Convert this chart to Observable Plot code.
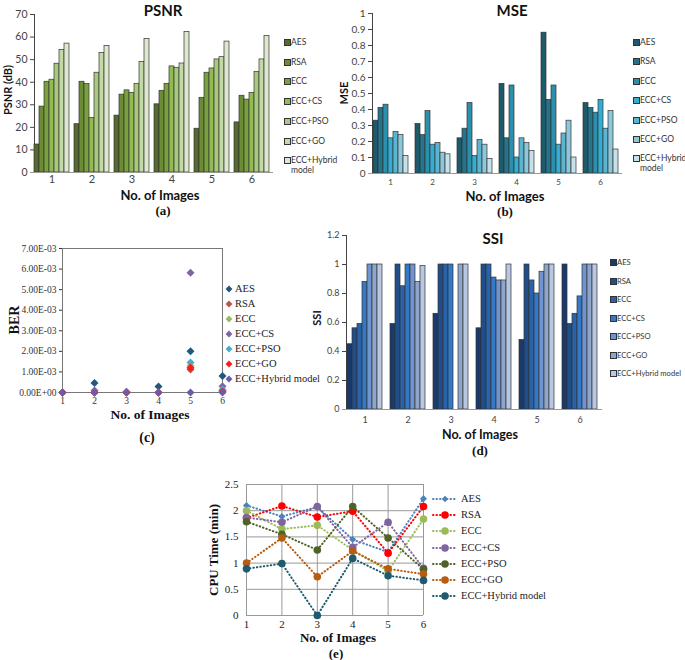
<!DOCTYPE html>
<html><head><meta charset="utf-8">
<script src="https://cdn.jsdelivr.net/npm/d3@7"></script>
<script src="https://cdn.jsdelivr.net/npm/@observablehq/plot@0.6"></script>
<style>
body{margin:0;background:#fff;}
#root{position:relative;width:685px;height:660px;overflow:hidden;background:#fff;}
#root svg{overflow:visible;}
</style></head><body><div id="root"></div>
<script>
const groups = ["1","2","3","4","5","6"];
const imageNos = [1,2,3,4,5,6];
const series = ["AES","RSA","ECC","ECC+CS","ECC+PSO","ECC+GO","ECC+Hybrid model"];

const psnrValues = [
 [12.4,21.4,25.2,30.2,19.4,22.2],
 [29.2,40.2,34.5,36.2,33.1,34.0],
 [40.2,39.2,36.4,39.3,44.2,32.3],
 [41.1,24.2,35.3,47.0,46.1,35.3],
 [48.2,44.2,39.3,46.4,50.1,44.6],
 [54.3,53.0,49.0,48.3,51.1,50.1],
 [57.1,56.1,59.2,62.3,58.0,60.5]
];
const mseValues = [
 [0.33,0.31,0.22,0.56,0.88,0.44],
 [0.41,0.24,0.28,0.22,0.46,0.41],
 [0.43,0.39,0.44,0.55,0.55,0.38],
 [0.22,0.18,0.11,0.10,0.18,0.46],
 [0.26,0.19,0.21,0.22,0.25,0.28],
 [0.24,0.13,0.18,0.19,0.33,0.39],
 [0.11,0.12,0.09,0.14,0.10,0.15]
];
const berValues = [
 [0, 0.00046, 0.00003, 0.00029, 0.00200, 0.00080],
 [0, 0, 0, 0, 0.00112, 0.00010],
 [0, 0, 0, 0, 0.00130, 0.00010],
 [0, 0.00010, 0.00003, 0, 0.00582, 0.00030],
 [0, 0, 0.00004, 0, 0.00146, 0.00015],
 [0, 0, 0, 0, 0.00120, 0.00005],
 [0, 0, 0, 0, 0, 0]
];
const ssiValues = [
 [0.45,0.59,0.66,0.56,0.48,1.00],
 [0.56,1.00,1.00,1.00,1.00,0.59],
 [0.59,0.85,1.00,1.00,0.89,0.66],
 [0.88,1.00,1.00,0.91,0.80,0.78],
 [1.00,1.00,0.00,0.89,0.95,1.00],
 [1.00,0.88,1.00,0.89,1.00,1.00],
 [1.00,0.99,1.00,1.00,1.00,1.00]
];
const cpuValues = [
 [2.10,1.89,2.07,1.45,1.21,2.23],
 [1.86,2.09,1.88,1.99,1.19,2.08],
 [2.00,1.65,1.72,1.25,0.85,1.84],
 [1.87,1.78,2.08,1.30,1.78,0.90],
 [1.79,1.55,1.25,2.08,1.48,0.88],
 [1.00,1.48,0.74,1.23,0.89,0.79],
 [0.89,0.99,0.00,1.09,0.76,0.67]
];

const psnrTicks = [0,10,20,30,40,50,60,70];
const mseTicks = [0,0.1,0.2,0.3,0.4,0.5,0.6,0.7,0.8,0.9,1];
const berTicks = [0,0.001,0.002,0.003,0.004,0.005,0.006,0.007];
const ssiTicks = [0,0.2,0.4,0.6,0.8,1,1.2];
const cpuTicks = [0,0.5,1,1.5,2,2.5];

const psnrColors = ["#566c2d","#6b8b35","#7aa13d","#90bc52","#a9c97e","#c3d9a6","#dde8cf"];
const mseColors  = ["#1d5a6b","#23758d","#2a90ae","#33aed2","#5bb5d0","#8ec6da","#c5e1ea"];
const berColors  = ["#1f5a7c","#c0504d","#9bbb59","#8064a2","#4bacc6","#ff1a1a","#6c5ca8"];
const ssiColors  = ["#1a3a6b","#1f4e8a","#2a63a8","#3478c6","#6f94cf","#8ea6cc","#b9c8e2"];
const cpuColors  = ["#4f81bd","#ff0000","#9bbb59","#8064a2","#4f6228","#b85c12","#1f5b6e"];

const tidy = (vals) => series.flatMap((s,i) => groups.map((g,j) => ({series:s, group:g, image:imageNos[j], value:vals[i][j]})));

const root = document.getElementById("root");
function place(node, left, top){
  const w = document.createElement("div");
  w.style.cssText = `position:absolute;left:${left}px;top:${top}px;`;
  w.appendChild(node); root.appendChild(w);
}
function label(text, x, y, css, rotate){
  const d = document.createElement("div");
  d.textContent = text;
  d.style.cssText = `position:absolute;left:${x}px;top:${y}px;white-space:nowrap;line-height:1;transform:translate(-50%,-50%)${rotate?" rotate(-90deg)":""};${css}`;
  root.appendChild(d);
}
const SANS = "font-family:Lato,'Liberation Sans',sans-serif;";
const SERIF = "font-family:'Liberation Serif','DejaVu Serif',serif;";

function barPanel({values, colors, ticks, domain, fmt, left, top, width, height, mL, mR, mT, mB, pi, po, fs, fxFs, fxPad}){
  const data = tidy(values);
  const p = Plot.plot({
    width, height, marginLeft:mL, marginRight:mR, marginTop:mT, marginBottom:mB,
    style:{fontFamily:"Lato, 'Liberation Sans', sans-serif", fontSize:fs, color:"#444", background:"transparent", overflow:"visible"},
    fx:{domain:groups, paddingInner:pi, paddingOuter:po, axis:"bottom", label:null, tickSize:0, tickPadding:fxPad},
    x:{domain:series, axis:null, padding:0},
    y:{domain, ticks, tickFormat:fmt, label:null, tickSize:4, tickPadding:3, line:true},
    color:{domain:series, range:colors},
    marks:[
      Plot.barY(data, {fx:"group", x:"series", y:"value", fill:"series", stroke:"#333", strokeWidth:0.7}),
      Plot.ruleY([0], {stroke:"#999", insetLeft:-4, insetRight:-4})
    ]
  });
  p.querySelectorAll('[aria-label="fx-axis tick label"] text').forEach(t => t.style.fontSize = fxFs);
  place(p, left, top);
}

function squareLegend(colors, x, y0, dy, fs, wrapWidth){
  series.forEach((s,i) => {
    const y = y0 + i*dy;
    const sq = document.createElement("div");
    sq.style.cssText = `position:absolute;left:${x}px;top:${y-3}px;width:5px;height:5px;background:${colors[i]};border:0.7px solid #333;`;
    root.appendChild(sq);
    const t = document.createElement("div");
    t.textContent = s;
    t.style.cssText = `position:absolute;left:${x+7}px;top:${y-5}px;${SANS}font-size:${fs};color:#333;line-height:10px;${wrapWidth?`width:${wrapWidth}px;`:"white-space:nowrap;"}`;
    root.appendChild(t);
  });
}

// (a) PSNR
barPanel({values:psnrValues, colors:psnrColors, ticks:psnrTicks, domain:[0,70], fmt:d3.format("d"),
  left:0, top:0, width:280, height:200, mL:31, mR:8, mT:14, mB:28, pi:0.12, po:0.06, fs:"10.5px", fxFs:"11px", fxPad:3});
label("PSNR", 163, 10, SANS+"font-weight:bold;font-size:15px;color:#111;");
label("PSNR (dB)", 7, 90, SANS+"font-weight:bold;font-size:11px;color:#111;", true);
label("No. of Images", 160, 195, SANS+"font-weight:bold;font-size:13px;color:#111;");
label("(a)", 163, 210, SERIF+"font-weight:bold;font-size:13px;color:#111;");
squareLegend(psnrColors, 284, 42, 19.7, "8.5px", 46);

// (b) MSE
barPanel({values:mseValues, colors:mseColors, ticks:mseTicks, domain:[0,1], fmt:d3.format("~g"),
  left:340, top:0, width:285, height:200, mL:29, mR:4, mT:13, mB:27, pi:0.15, po:0.05, fs:"10px", fxFs:"8px", fxPad:6});
label("MSE", 512, 10, SANS+"font-weight:bold;font-size:15px;color:#111;");
label("MSE", 343, 93, SANS+"font-weight:bold;font-size:11px;color:#111;", true);
label("No. of Images", 505, 196, SANS+"font-weight:bold;font-size:13px;color:#111;");
label("(b)", 505, 211, SERIF+"font-weight:bold;font-size:13px;color:#111;");
squareLegend(mseColors, 633, 42, 19.4, "8.5px", 46);

// (c) BER
function sci(v){
  if (v === 0) return "0.00E+00";
  const e = Math.floor(Math.log10(Math.abs(v)) + 1e-9);
  const m = v / Math.pow(10, e);
  return m.toFixed(2) + "E" + (e < 0 ? "-" : "+") + String(Math.abs(e)).padStart(2, "0");
}
{
  const data = tidy(berValues);
  const p = Plot.plot({
    width:226, height:180, marginLeft:62, marginRight:4, marginTop:18, marginBottom:18,
    style:{fontFamily:"'Liberation Serif', serif", fontSize:"9.5px", color:"#333", background:"transparent", overflow:"visible"},
    x:{domain:[1,6], ticks:imageNos, tickFormat:d3.format("d"), label:null, tickSize:3, tickPadding:2},
    y:{domain:[0,0.007], ticks:berTicks, tickFormat:sci, label:null, tickSize:3, tickPadding:3},
    color:{domain:series, range:berColors},
    marks:[
      Plot.frame({stroke:"#777"}),
      Plot.dot(data, {x:"image", y:"value", fill:"series", symbol:"diamond2", r:3.6})
    ]
  });
  place(p, 0, 230);
}
label("BER", 15, 320, SERIF+"font-weight:bold;font-size:14px;color:#111;", true);
label("No. of Images", 150, 415, SERIF+"font-weight:bold;font-size:13.5px;color:#111;");
label("(c)", 147, 438, SERIF+"font-weight:bold;font-size:14px;color:#111;");
series.forEach((s,i) => {
  const y = 289 + i*15;
  const svg = d3.create("svg").attr("width",10).attr("height",10)
    .style("position","absolute").style("left","224px").style("top",(y-5)+"px");
  svg.append("path").attr("d", d3.symbol(d3.symbolDiamond2, 30)()).attr("transform","translate(5,5)").attr("fill", berColors[i]);
  root.appendChild(svg.node());
  const t = document.createElement("div");
  t.textContent = s;
  t.style.cssText = `position:absolute;left:235px;top:${y-6}px;${SERIF}font-size:10.5px;color:#222;white-space:nowrap;line-height:12px;`;
  root.appendChild(t);
});

// (d) SSI
barPanel({values:ssiValues, colors:ssiColors, ticks:ssiTicks, domain:[0,1.2], fmt:d3.format("~g"),
  left:300, top:225, width:305, height:200, mL:43, mR:4, mT:10, mB:16, pi:0.14, po:0.05, fs:"9px", fxFs:"9px", fxPad:7});
label("SSI", 493, 238, SANS+"font-weight:bold;font-size:15px;color:#111;");
label("SSI", 316, 318, SANS+"font-weight:bold;font-size:11px;color:#111;", true);
label("No. of Images", 480, 435, SANS+"font-weight:bold;font-size:12.5px;color:#111;");
label("(d)", 480, 450, SERIF+"font-weight:bold;font-size:13px;color:#111;");
squareLegend(ssiColors, 610, 262, 18.5, "7.6px", null);

// (e) CPU Time
{
  const data = tidy(cpuValues);
  const p = Plot.plot({
    width:228, height:165, marginLeft:46, marginRight:5, marginTop:14, marginBottom:20,
    style:{fontFamily:"'Liberation Serif', serif", fontSize:"11px", color:"#222", background:"transparent", overflow:"visible"},
    x:{domain:[1,6], ticks:imageNos, tickFormat:d3.format("d"), label:null, tickSize:0, tickPadding:5},
    y:{domain:[0,2.5], ticks:cpuTicks, tickFormat:d3.format("~g"), label:null, tickSize:0, tickPadding:8},
    color:{domain:series, range:cpuColors},
    marks:[
      Plot.gridX(imageNos, {stroke:"#999", strokeOpacity:1}),
      Plot.gridY(cpuTicks, {stroke:"#999", strokeOpacity:1}),
      Plot.line(data, {x:"image", y:"value", z:"series", stroke:"series", strokeWidth:2, strokeDasharray:"0.5 3", strokeLinecap:"round"}),
      Plot.dot(data.filter(d => d.series === "AES"), {x:"image", y:"value", fill:"series", symbol:"diamond2", r:3.2}),
      Plot.dot(data.filter(d => d.series !== "AES"), {x:"image", y:"value", fill:"series", r:3.8})
    ]
  });
  place(p, 200, 470);
}
label("CPU Time (min)", 213, 550, SERIF+"font-weight:bold;font-size:13px;color:#111;", true);
label("No. of Images", 338, 637, SERIF+"font-weight:bold;font-size:13px;color:#111;");
label("(e)", 336, 653, SERIF+"font-weight:bold;font-size:13px;color:#111;");
series.forEach((s,i) => {
  const y = 499 + i*16.2;
  const svg = d3.create("svg").attr("width",28).attr("height",10)
    .style("position","absolute").style("left","431px").style("top",(y-5)+"px");
  svg.append("line").attr("x1",2).attr("x2",26).attr("y1",5).attr("y2",5)
    .attr("stroke",cpuColors[i]).attr("stroke-width",2).attr("stroke-dasharray","0.5 3").attr("stroke-linecap","round");
  if (i === 0) svg.append("path").attr("d", d3.symbol(d3.symbolDiamond2, 26)()).attr("transform","translate(14,5)").attr("fill",cpuColors[i]);
  else svg.append("circle").attr("cx",14).attr("cy",5).attr("r",3.8).attr("fill",cpuColors[i]);
  root.appendChild(svg.node());
  const t = document.createElement("div");
  t.textContent = s;
  t.style.cssText = `position:absolute;left:461px;top:${y-6}px;${SERIF}font-size:10.5px;color:#222;white-space:nowrap;line-height:12px;`;
  root.appendChild(t);
});
</script></body></html>
